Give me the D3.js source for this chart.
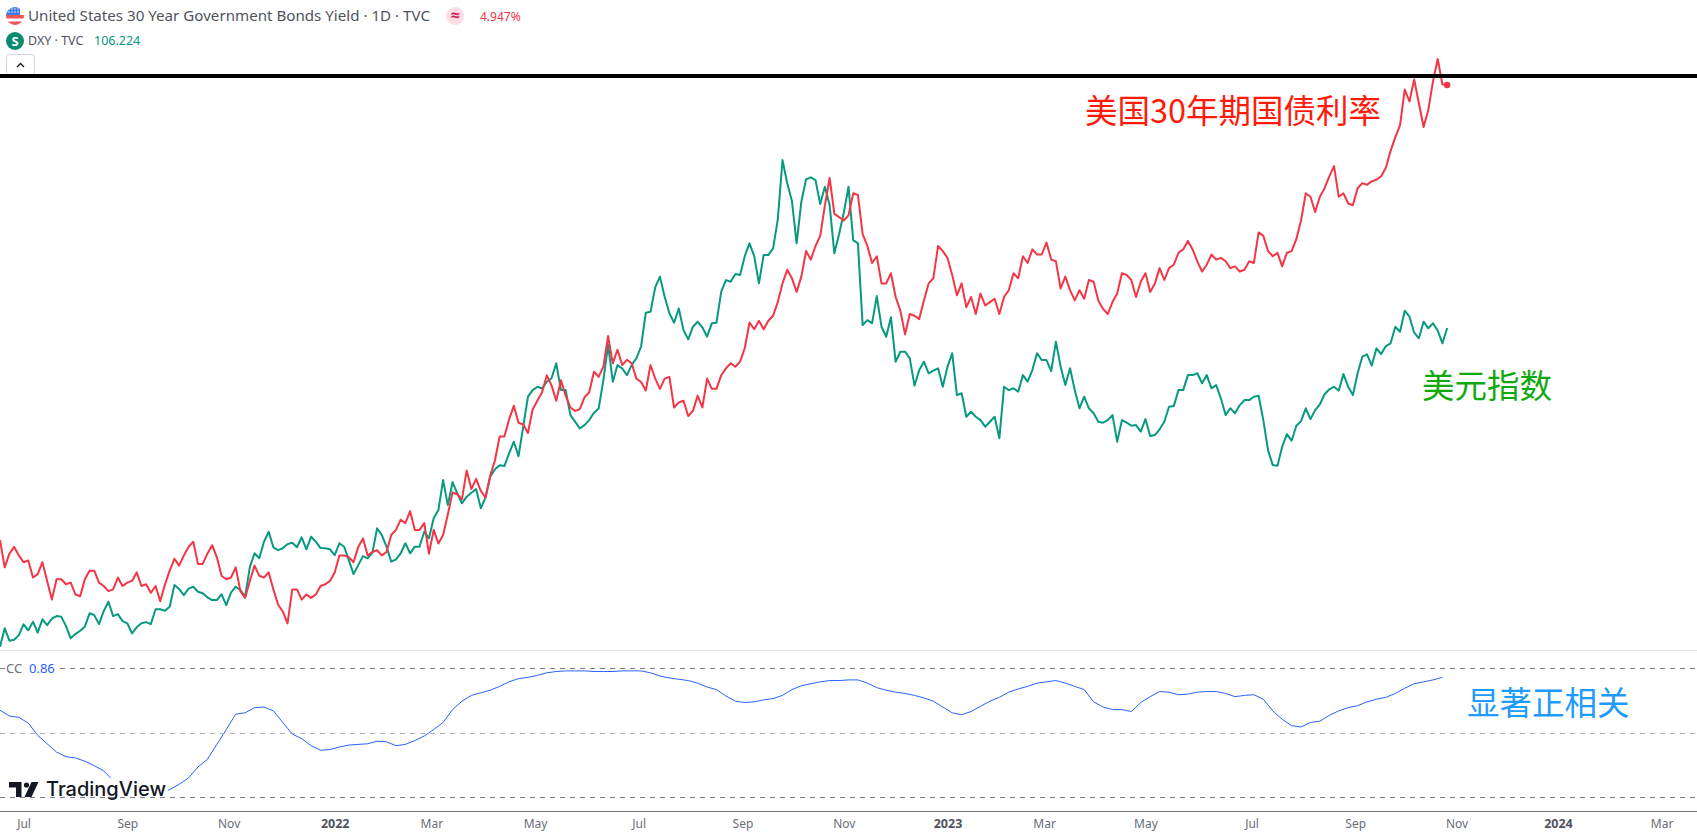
<!DOCTYPE html>
<html>
<head>
<meta charset="utf-8">
<script src="https://cdn.jsdelivr.net/npm/d3@7"></script>
<style>
  html, body { margin: 0; padding: 0; background: #fff; overflow: hidden; }
  text { font-family: "Noto Sans", "Open Sans", sans-serif; }
  .note { font-family: "Noto Sans CJK SC", sans-serif; font-size: 32.5px; }
  .tick text { font-size: 12px; fill: #6a6d78; }
  .tick text.year { font-size: 12.5px; font-weight: 700; fill: #50535e; }
</style>
</head>
<body>
<div id="vis"></div>
<script>
const W = 1697, H = 838

// one reading every 2 sessions, first reading 2021-06-17
const yieldValues = [
  2.27,2.11,2.19,2.23,2.18,2.14,2.15,2.05,2.07,2.14,2.03,1.92,2.04,2.04,2.01,2.02,1.95,1.94,2.04,2.09,
  2.09,2.02,2.00,1.97,1.98,2.05,2.00,2.02,2.03,2.08,2.00,2.01,1.96,2.00,1.91,2.01,2.09,2.16,2.12,2.18,
  2.23,2.26,2.13,2.13,2.19,2.24,2.17,2.06,2.04,2.05,2.11,1.97,1.93,2.03,2.12,2.06,2.05,2.08,1.98,1.89,
  1.85,1.78,1.98,1.98,1.92,1.95,1.93,1.95,2.00,2.01,2.03,2.08,2.18,2.18,2.17,2.14,2.23,2.28,2.18,2.20,
  2.21,2.18,2.20,2.30,2.33,2.39,2.37,2.44,2.33,2.33,2.37,2.19,2.33,2.25,2.30,2.42,
  2.55,2.54,2.51,2.68,2.57,2.63,2.56,2.52,2.65,2.74,2.88,2.88,2.98,3.06,2.96,2.95,2.90,3.04,3.09,3.14,
  3.24,3.18,3.09,3.21,3.12,3.05,3.03,3.04,3.11,3.14,3.26,3.23,3.29,3.47,3.31,3.39,3.30,3.33,3.31,3.22,
  3.20,3.15,3.30,3.22,3.16,3.22,3.23,3.05,3.08,3.09,3.00,3.03,3.12,3.05,3.22,3.16,3.16,3.24,3.28,3.31,
  3.29,3.32,3.40,3.55,3.51,3.56,3.51,3.56,3.59,3.67,3.78,3.86,3.81,3.73,3.82,3.97,3.92,4.00,4.06,4.24,
  4.40,4.19,4.17,4.15,4.18,4.31,4.30,4.07,4.00,3.90,3.94,3.78,3.78,3.84,3.70,3.62,3.48,3.60,3.59,3.57,
  3.68,3.78,3.81,4.00,3.97,3.93,3.83,3.71,3.78,3.64,3.70,3.60,3.72,3.65,3.67,3.69,3.60,3.70,3.74,3.84,
  3.81,3.94,3.90,3.98,3.95,3.95,4.02,3.92,3.91,3.75,3.82,3.74,3.68,3.74,3.69,3.80,3.79,3.68,3.63,3.60,
  3.67,3.72,3.84,3.83,3.80,3.70,3.79,3.84,3.73,3.78,3.87,3.80,3.87,3.89,3.96,3.98,4.03,3.98,3.91,3.85,
  3.89,3.95,3.92,3.93,3.91,3.87,3.88,3.85,3.86,3.91,3.90,4.08,4.06,3.97,3.94,3.96,3.88,3.96,3.97,4.04,
  4.15,4.31,4.29,4.20,4.29,4.34,4.41,4.47,4.29,4.31,4.25,4.24,4.34,4.37,4.36,4.38,4.39,4.41,4.46,4.56,
  4.64,4.71,4.92,4.85,4.98,4.84,4.70,4.80,4.97,5.10,4.95,4.947
]

const dxyValues = [
  90.29,91.21,90.59,90.64,90.87,91.41,91.11,91.54,90.99,91.66,91.37,91.69,91.82,91.79,91.32,90.71,90.92,91.09,91.29,91.96,
  91.87,91.42,92.07,92.54,91.82,91.92,91.57,91.46,90.96,91.26,91.46,91.52,91.42,92.16,92.16,92.09,92.29,93.37,93.17,92.87,
  93.19,93.29,93.04,92.96,92.76,92.62,92.62,92.91,92.37,92.99,93.29,93.12,92.79,94.27,94.96,94.71,95.54,96.04,95.26,95.12,
  95.21,95.42,95.49,95.26,95.76,95.16,95.79,95.54,95.22,95.21,95.16,94.87,95.46,95.29,94.62,93.92,94.37,94.82,94.71,94.99,
  96.21,95.87,95.29,94.54,94.66,94.96,95.46,94.96,95.29,95.29,96.04,95.71,96.71,
  97.12,98.62,97.37,98.52,97.96,97.46,97.79,97.99,98.17,97.21,97.76,98.79,99.16,99.36,99.32,99.96,100.54,99.82,101.29,102.79,
  103.12,103.29,103.20,103.54,103.71,104.46,103.12,103.12,101.87,101.54,101.20,101.37,101.62,101.99,102.20,103.62,105.37,103.54,104.37,104.20,
  103.87,104.37,104.71,105.30,106.99,107.04,108.26,108.79,107.79,106.96,106.49,107.20,106.12,105.66,106.29,106.54,106.26,105.79,106.46,106.49,
  108.04,108.62,108.54,108.92,108.87,109.82,110.46,109.82,108.46,109.87,109.87,110.21,111.66,114.62,113.46,112.57,110.46,112.54,113.66,113.76,
  113.62,112.42,113.29,112.37,109.96,110.91,111.99,113.29,110.62,110.46,106.37,106.62,106.46,107.82,106.29,105.79,106.76,104.54,105.04,105.04,
  104.71,103.34,104.12,104.54,103.96,104.09,104.21,103.29,104.29,104.96,102.87,102.96,101.79,102.04,101.79,101.62,101.29,101.54,101.79,100.71,
  103.29,103.12,103.21,103.04,103.87,103.54,104.12,104.96,104.62,104.62,104.07,105.54,104.29,103.37,104.21,103.12,102.21,102.79,102.21,101.96,
  101.54,101.49,101.62,101.87,100.54,101.62,101.49,101.34,101.37,101.04,101.67,100.82,100.87,101.16,101.54,102.29,102.32,103.12,103.12,103.87,
  103.87,103.96,103.46,103.87,103.21,103.37,102.71,101.87,102.21,101.96,102.37,102.62,102.62,102.79,102.84,101.62,100.12,99.37,99.34,100.29,
  100.92,100.59,101.34,101.57,102.21,101.67,102.12,102.41,102.91,103.16,103.29,103.09,103.92,103.29,102.87,103.96,104.79,104.91,104.34,105.21,
  104.92,105.32,105.46,106.29,106.04,107.09,106.79,105.99,105.71,106.54,106.21,106.46,106.09,105.46,106.224
]

// correlation coefficient, one reading every 4 sessions
const ccValues = [
  .35,.26,.24,.15,-.04,-.17,-.30,-.37,-.39,-.44,-.51,-.59,-.74,-.84,-.93,-.98,-.97,-.93,-.88,-.80,
  -.70,-.53,-.41,-.18,.05,.29,.31,.39,.40,.34,.16,-.02,-.09,-.20,-.27,-.26,-.22,-.19,-.18,-.17,
  -.13,-.14,-.20,-.18,-.12,-.05,.05,.16,.36,.49,.58,.62,.66,.72,.79,.84,.86,.89,.93,.95,
  .96,.96,.96,.95,.95,.95,.96,.96,.96,.93,.88,.85,.83,.81,.77,.71,.67,.57,.49,.47,
  .48,.51,.53,.58,.67,.73,.76,.79,.81,.81,.82,.82,.77,.70,.66,.63,.61,.58,.54,.49,
  .40,.31,.28,.33,.41,.49,.55,.63,.68,.72,.77,.79,.81,.77,.72,.67,.48,.40,.36,.36,
  .33,.47,.56,.64,.63,.59,.60,.63,.64,.64,.61,.56,.58,.59,.52,.34,.21,.11,.09,.16,
  .18,.27,.34,.39,.42,.48,.52,.55,.61,.69,.76,.79,.82,.86
]

const ccLevels = [1, 0, -1]

const monthTicks = [
  ['2021-07-01', 'Jul'], ['2021-09-01', 'Sep'], ['2021-11-01', 'Nov'], ['2022-01-03', '2022'],
  ['2022-03-01', 'Mar'], ['2022-05-02', 'May'], ['2022-07-01', 'Jul'], ['2022-09-01', 'Sep'],
  ['2022-11-01', 'Nov'], ['2023-01-03', '2023'], ['2023-03-01', 'Mar'], ['2023-05-01', 'May'],
  ['2023-07-03', 'Jul'], ['2023-09-01', 'Sep'], ['2023-11-01', 'Nov'], ['2024-01-01', '2024'],
  ['2024-03-01', 'Mar']
]

const closedDays = ['2023-01-02']

const firstDay = new Date(Date.UTC(2021, 5, 17))

// weekdays with a session between the first reading and a date
function sessions(str) {
  return d3.utcDay.range(firstDay, new Date(str + 'T00:00:00Z'))
    .filter(d => d.getUTCDay() % 6 !== 0)
    .filter(d => !closedDays.includes(d.toISOString().slice(0, 10))).length
}

const xScale = d3.scaleLinear().domain([0, 720]).range([0, W])
const yieldScale = d3.scaleLinear().domain([1.6, 5.2]).range([654, 42])
const dxyScale = d3.scaleLinear().domain([89.5, 116.7]).range([662.5, 118.5])
const ccScale = d3.scaleLinear().domain([-1, 1]).range([797.3, 668.3])

const svg = d3.select('#vis').append('svg')
  .attr('width', W)
  .attr('height', H)
  .style('display', 'block')

function drawLine(values, every, yScale, color, width) {
  const line = d3.line()
    .x((d, i) => xScale(i * every))
    .y(d => yScale(d))
  svg.append('path')
    .attr('d', line(values))
    .attr('fill', 'none')
    .attr('stroke', color)
    .attr('stroke-width', width)
    .attr('stroke-linejoin', 'round')
}

// price pane
drawLine(dxyValues, 2, dxyScale, '#089981', 2)
drawLine(yieldValues, 2, yieldScale, '#f23645', 2)

svg.append('circle')
  .attr('cx', xScale((yieldValues.length - 1) * 2))
  .attr('cy', yieldScale(yieldValues[yieldValues.length - 1]))
  .attr('r', 3.2)
  .attr('fill', '#f23645')

// indicator pane
svg.append('line')
  .attr('x1', 0).attr('x2', W)
  .attr('y1', 650.5).attr('y2', 650.5)
  .attr('stroke', '#e0e3eb')

drawLine(ccValues, 4, ccScale, '#2962ff', 1)

// the logo sits on a white plate that hides the line
svg.append('rect')
  .attr('x', 8).attr('y', 778)
  .attr('width', 160).attr('height', 20)
  .attr('fill', '#fff')

svg.selectAll('.level')
  .data(ccLevels)
  .enter()
  .append('line')
  .attr('class', 'level')
  .attr('x1', 0).attr('x2', W)
  .attr('y1', d => Math.round(ccScale(d)) + 0.5)
  .attr('y2', d => Math.round(ccScale(d)) + 0.5)
  .attr('stroke', d => d === 0 ? '#b2b5be' : '#787b86')
  .attr('stroke-dasharray', '5 5')

svg.append('rect')
  .attr('x', 5).attr('y', 660)
  .attr('width', 52).attr('height', 17)
  .attr('fill', '#fff')
svg.append('text')
  .attr('x', 6).attr('y', 673)
  .attr('font-size', 13)
  .attr('fill', '#6a6d78')
  .text('CC')
svg.append('text')
  .attr('x', 29).attr('y', 673)
  .attr('font-size', 13)
  .attr('fill', '#2962ff')
  .text('0.86')

// logo
const logo = svg.append('g').attr('fill', '#131722')
logo.append('path').attr('d', 'M9 782H21.5V797H16V787.5H9Z')
logo.append('circle').attr('cx', 26.5).attr('cy', 785).attr('r', 2.6)
logo.append('path').attr('d', 'M31.5 782H38.5L31.5 797H24.5Z')
logo.append('text')
  .attr('x', 46).attr('y', 796)
  .attr('font-size', 20)
  .attr('font-weight', 500)
  .attr('fill', '#131722')
  .style('font-family', 'Inter, sans-serif')
  .text('TradingView')

// time axis
const xAxis = d3.axisBottom(xScale)
  .tickValues(monthTicks.map(d => sessions(d[0])))
  .tickFormat((d, i) => monthTicks[i][1])
  .tickSize(0)
  .tickPadding(8)

const axisG = svg.append('g')
  .attr('transform', 'translate(0,811)')
  .call(xAxis)
axisG.select('.domain').attr('stroke', '#787b86').attr('stroke-width', 1)
  .attr('d', `M0,0.5H${W}`)
axisG.selectAll('.tick text')
  .classed('year', (d, i) => /^\d+$/.test(monthTicks[i][1]))

// legend
const flagClip = svg.append('clipPath').attr('id', 'flag')
flagClip.append('circle').attr('cx', 15).attr('cy', 16).attr('r', 9)
const flag = svg.append('g').attr('clip-path', 'url(#flag)')
flag.append('rect').attr('x', 6).attr('y', 7).attr('width', 18).attr('height', 18).attr('fill', '#fff')
flag.append('rect').attr('x', 6).attr('y', 15).attr('width', 18).attr('height', 3.5).attr('fill', '#eb5757')
flag.append('rect').attr('x', 6).attr('y', 21.5).attr('width', 18).attr('height', 4).attr('fill', '#eb5757')
flag.append('rect').attr('x', 6).attr('y', 7).attr('width', 14).attr('height', 8).attr('fill', '#3f7ce8')
flag.selectAll('.star')
  .data(d3.cross([9, 12, 15, 18], [9, 12]))
  .enter()
  .append('circle')
  .attr('class', 'star')
  .attr('cx', d => d[0])
  .attr('cy', d => d[1])
  .attr('r', 0.7)
  .attr('fill', '#fff')

svg.append('text')
  .attr('x', 28).attr('y', 21)
  .attr('font-size', 14.5)
  .attr('textLength', 402)
  .attr('lengthAdjust', 'spacingAndGlyphs')
  .attr('fill', '#50535e')
  .text('United States 30 Year Government Bonds Yield · 1D · TVC')

svg.append('circle').attr('cx', 455).attr('cy', 16).attr('r', 9).attr('fill', '#fbdde3')
svg.append('text')
  .attr('x', 455).attr('y', 21)
  .attr('text-anchor', 'middle')
  .attr('font-size', 16)
  .attr('font-weight', 700)
  .attr('fill', '#d81b60')
  .text('≈')
svg.append('text')
  .attr('x', 480).attr('y', 21)
  .attr('font-size', 12)
  .attr('fill', '#f23645')
  .text('4.947%')

svg.append('circle').attr('cx', 15).attr('cy', 41).attr('r', 9).attr('fill', '#0b8a72')
svg.append('text')
  .attr('x', 15).attr('y', 46)
  .attr('text-anchor', 'middle')
  .attr('font-size', 13)
  .attr('font-weight', 700)
  .attr('fill', '#fff')
  .text('S')
svg.append('text')
  .attr('x', 28).attr('y', 45)
  .attr('font-size', 12.5)
  .attr('fill', '#50535e')
  .text('DXY · TVC')
svg.append('text')
  .attr('x', 94).attr('y', 45)
  .attr('font-size', 12.5)
  .attr('fill', '#089981')
  .text('106.224')

svg.append('rect')
  .attr('x', 6.5).attr('y', 54.5)
  .attr('width', 28).attr('height', 21)
  .attr('rx', 3)
  .attr('fill', '#fff')
  .attr('stroke', '#d1d4dc')
svg.append('path')
  .attr('d', 'M17 67L20.5 63.5L24 67')
  .attr('fill', 'none')
  .attr('stroke', '#131722')
  .attr('stroke-width', 1.3)

// drawn-on annotations
svg.append('rect')
  .attr('x', 0).attr('y', 74)
  .attr('width', W).attr('height', 4)
  .attr('fill', '#000')

svg.append('text').attr('class', 'note')
  .attr('x', 1085).attr('y', 123)
  .attr('fill', '#ff1a0a')
  .text('美国30年期国债利率')
svg.append('text').attr('class', 'note')
  .attr('x', 1422).attr('y', 398)
  .attr('fill', '#12a80f')
  .text('美元指数')
svg.append('text').attr('class', 'note')
  .attr('x', 1467).attr('y', 715)
  .attr('fill', '#1e9bff')
  .text('显著正相关')
</script>
</body>
</html>
